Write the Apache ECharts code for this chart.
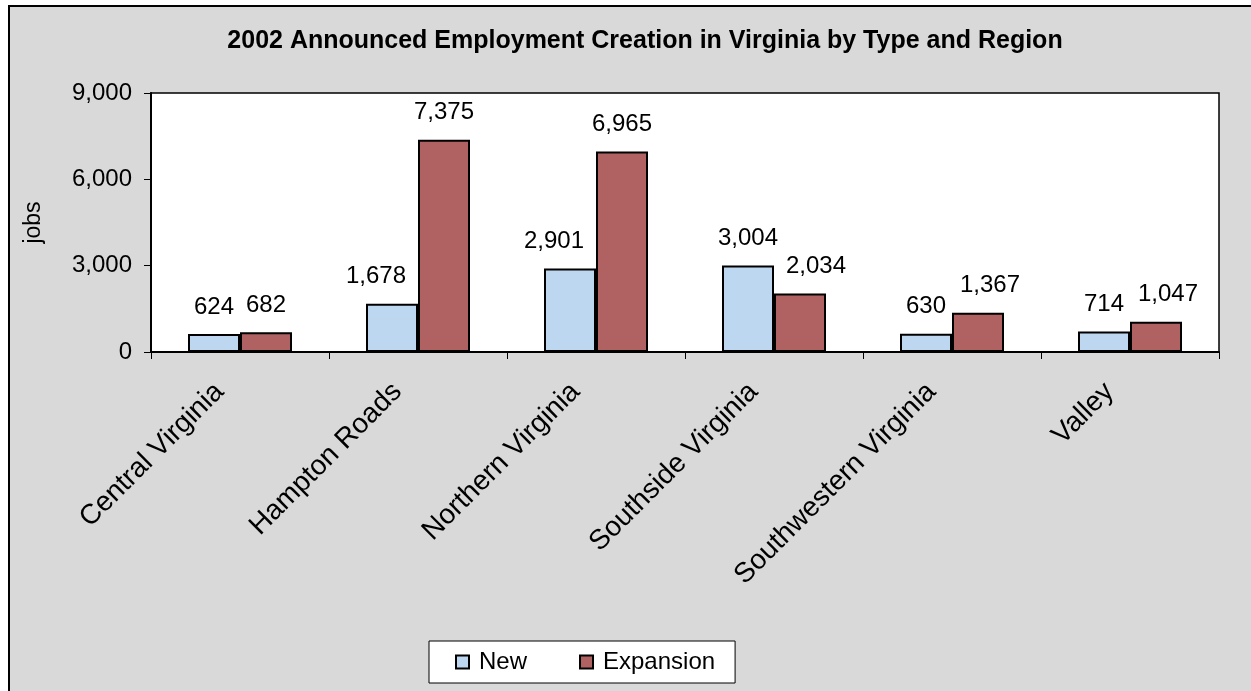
<!DOCTYPE html>
<html>
<head>
<meta charset="utf-8">
<script src="https://cdn.jsdelivr.net/npm/echarts@6/dist/echarts.min.js"></script>
<style>html,body{margin:0;padding:0;background:#fff;}#c{width:1251px;height:691px;}</style>
</head>
<body>
<div id="c"></div>
<script>
var categories = ['Central Virginia', 'Hampton Roads', 'Northern Virginia', 'Southside Virginia', 'Southwestern Virginia', 'Valley'];
var newJobs = [624, 1678, 2901, 3004, 630, 714];
var expansionJobs = [682, 7375, 6965, 2034, 1367, 1047];
var yTicks = [0, 3000, 6000, 9000];
var titleText = '2002 Announced Employment Creation in Virginia by Type and Region';

var fmt = function (v) { return Number(v).toLocaleString('en-US'); };
var chart = echarts.init(document.getElementById('c'), null, { renderer: 'canvas' });
var FONT = 'Arial, "Liberation Sans", sans-serif';
var LABEL_SIZE = 24;
var Y_MAX = yTicks[yTicks.length - 1];

var measureCtx = document.createElement('canvas').getContext('2d');
measureCtx.font = LABEL_SIZE + 'px ' + FONT;
function textW(v) { return measureCtx.measureText(fmt(v)).width; }

// Nudge value labels sideways to avoid collisions, as the original chart does.
function sideShift(params) {
  var s = params.seriesIndex, i = params.dataIndex;
  var own = s === 0 ? newJobs[i] : expansionJobs[i];
  var other = s === 0 ? expansionJobs[i] : newJobs[i];
  var barW = params.rect.width;
  var plotH = params.rect.height / Math.max(own, 1) * Y_MAX;
  var pxPerUnit = plotH / Y_MAX;
  var lblW = textW(own);
  var otherW = textW(other);
  // label wider than its bar and the neighbouring bar reaches up to the label
  if (lblW > barW && (other - own) * pxPerUnit > 15) {
    return { dx: s === 0 ? -16 : 16 };
  }
  // expansion label crowding the neighbouring "new" label at about the same height
  if (s === 1 && Math.abs(own - other) * pxPerUnit < 26) {
    var gap = barW - lblW / 2 - otherW / 2;
    if (gap < 8) return { dx: 12 };
  }
  return {};
}

var labelStyle = {
  show: true, position: 'top', distance: 15,
  fontFamily: FONT, fontSize: LABEL_SIZE, color: '#000',
  formatter: function (p) { return fmt(p.value); }
};

chart.setOption({
  backgroundColor: '#ffffff',
  animation: false,
  graphic: [{
    type: 'rect', z: -10, silent: true,
    shape: { x: 9, y: 6, width: 1260, height: 700 },
    style: { fill: '#d9d9d9', stroke: '#000', lineWidth: 2 }
  }],
  title: {
    text: titleText,
    left: 640, top: 24, textAlign: 'center',
    textStyle: { fontFamily: FONT, fontWeight: 'bold', fontSize: 25, color: '#000' }
  },
  legend: {
    data: ['New', 'Expansion'],
    left: 429, top: 641,
    backgroundColor: '#fff', borderColor: '#000', borderWidth: 1,
    padding: [9, 20, 9, 26],
    itemGap: 52,
    itemWidth: 13, itemHeight: 13,
    icon: 'rect',
    textStyle: { fontFamily: FONT, fontSize: 24, color: '#000', padding: [0, 0, 0, 5] }
  },
  grid: {
    left: 151, top: 93, right: 32, bottom: 339,
    show: true, backgroundColor: '#fff', borderColor: '#000', borderWidth: 1.5
  },
  xAxis: {
    type: 'category', data: categories,
    axisLine: { lineStyle: { color: '#000', width: 2 } },
    axisTick: { show: true, length: 7, alignWithLabel: false, lineStyle: { color: '#000', width: 1 } },
    axisLabel: { rotate: 45, margin: 15, padding: [0, 29, 0, 0], interval: 0, fontFamily: FONT, fontSize: 28, color: '#000' }
  },
  yAxis: {
    type: 'value', min: 0, max: Y_MAX, interval: 3000,
    name: 'jobs', nameLocation: 'middle', nameGap: 106, nameRotate: 90,
    nameTextStyle: { fontFamily: FONT, fontSize: 23, color: '#000' },
    axisLine: { show: true, lineStyle: { color: '#000', width: 2 } },
    axisTick: { show: true, length: 7, lineStyle: { color: '#000' } },
    splitLine: { show: false },
    axisLabel: { margin: 19, fontFamily: FONT, fontSize: 24, color: '#000', formatter: fmt }
  },
  series: [{
    name: 'New', type: 'bar', data: newJobs,
    barWidth: 52, barGap: '0%',
    itemStyle: { color: '#bdd7f1', borderColor: '#000', borderWidth: 2 },
    label: labelStyle,
    labelLayout: sideShift
  }, {
    name: 'Expansion', type: 'bar', data: expansionJobs,
    barWidth: 52,
    itemStyle: { color: '#b06262', borderColor: '#000', borderWidth: 2 },
    label: labelStyle,
    labelLayout: sideShift
  }]
});
</script>
</body>
</html>
